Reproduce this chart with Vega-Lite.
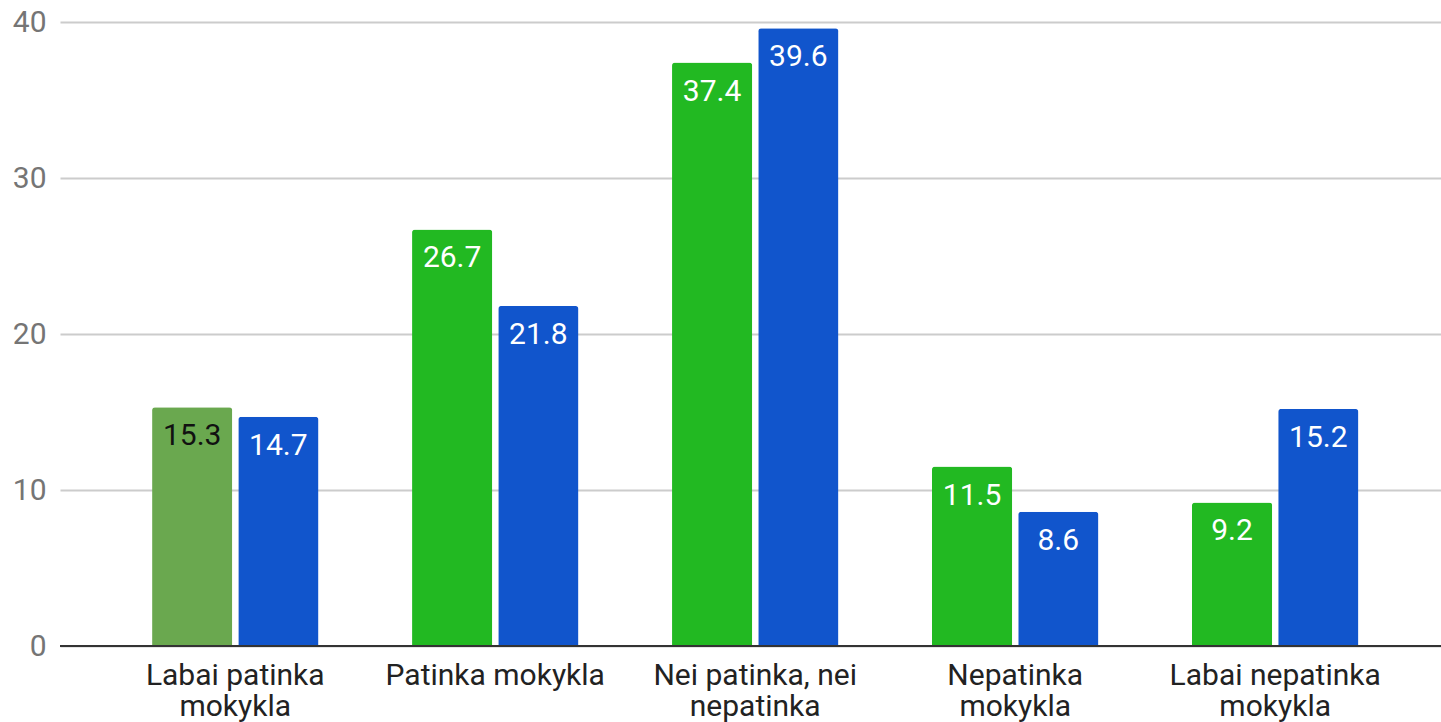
{
  "$schema": "https://vega.github.io/schema/vega-lite/v6.json",
  "width": 1381,
  "height": 624,
  "autosize": {"type": "none"},
  "padding": {"left": 60, "top": 22, "right": 0, "bottom": 76},
  "background": "white",
  "config": {
    "view": {"stroke": null},
    "font": "Roboto"
  },
  "data": {
    "values": [
      {"category": "Labai patinka mokykla", "series": "A", "value": 15.3},
      {"category": "Labai patinka mokykla", "series": "B", "value": 14.7},
      {"category": "Patinka mokykla", "series": "A", "value": 26.7},
      {"category": "Patinka mokykla", "series": "B", "value": 21.8},
      {"category": "Nei patinka, nei nepatinka", "series": "A", "value": 37.4},
      {"category": "Nei patinka, nei nepatinka", "series": "B", "value": 39.6},
      {"category": "Nepatinka mokykla", "series": "A", "value": 11.5},
      {"category": "Nepatinka mokykla", "series": "B", "value": 8.6},
      {"category": "Labai nepatinka mokykla", "series": "A", "value": 9.2},
      {"category": "Labai nepatinka mokykla", "series": "B", "value": 15.2}
    ]
  },
  "encoding": {
    "x": {
      "field": "category",
      "type": "nominal",
      "sort": null,
      "scale": {"paddingInner": 0.36, "paddingOuter": 0.336, "align": 0.527},
      "axis": {
        "title": null,
        "labelAngle": 0,
        "labelFontSize": 30,
        "labelColor": "#222222",
        "labelPadding": 14,
        "labelLineHeight": 31,
        "labelLimit": 400,
        "ticks": false,
        "domain": false,
        "labelExpr": "datum.value == 'Labai patinka mokykla' ? ['Labai patinka', 'mokykla'] : datum.value == 'Nei patinka, nei nepatinka' ? ['Nei patinka, nei', 'nepatinka'] : datum.value == 'Nepatinka mokykla' ? ['Nepatinka', 'mokykla'] : datum.value == 'Labai nepatinka mokykla' ? ['Labai nepatinka', 'mokykla'] : datum.value"
      }
    },
    "xOffset": {
      "field": "series",
      "type": "nominal",
      "scale": {"paddingInner": 0.0698, "paddingOuter": 0}
    },
    "y": {
      "field": "value",
      "type": "quantitative",
      "scale": {"domain": [0, 40], "nice": false},
      "axis": {
        "title": null,
        "values": [0, 10, 20, 30, 40],
        "labelFontSize": 30,
        "labelColor": "#757575",
        "labelPadding": 14,
        "ticks": false,
        "domain": false,
        "gridColor": "#cccccc",
        "gridWidth": 2
      }
    }
  },
  "layer": [
    {
      "mark": {"type": "bar", "cornerRadiusTopLeft": 3, "cornerRadiusTopRight": 3},
      "encoding": {
        "color": {
          "condition": {"test": "datum.category === 'Labai patinka mokykla' && datum.series === 'A'", "value": "#6aa84f"},
          "field": "series",
          "type": "nominal",
          "scale": {"domain": ["A", "B"], "range": ["#22b922", "#1155cc"]},
          "legend": null
        }
      }
    },
    {
      "mark": {"type": "text", "baseline": "top", "dy": 14, "fontSize": 30},
      "encoding": {
        "text": {"field": "value", "type": "quantitative", "format": ".1f"},
        "color": {
          "condition": {"test": "datum.category === 'Labai patinka mokykla' && datum.series === 'A'", "value": "#111111"},
          "value": "#ffffff"
        }
      }
    },
    {
      "mark": {"type": "rule", "color": "#333333", "strokeWidth": 2},
      "encoding": {"y": {"datum": 0}, "x": null, "xOffset": null}
    }
  ]
}
